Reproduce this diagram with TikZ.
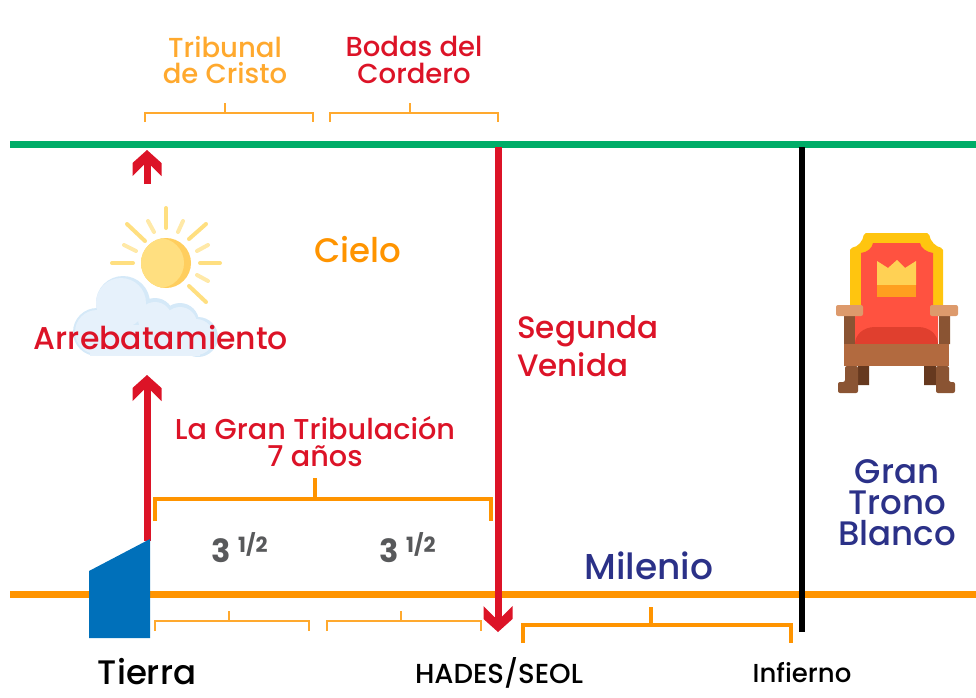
\documentclass[tikz,border=0pt]{standalone}
\usepackage{fontspec}
\setmainfont{Poppins Medium}[BoldFont=Poppins Bold]
\usetikzlibrary{arrows.meta}

\definecolor{redline}{HTML}{DC1327}
\definecolor{orangeline}{HTML}{FF9400}
\definecolor{greenline}{HTML}{00AD68}
\definecolor{navytext}{HTML}{2B3188}
\definecolor{lightorange}{HTML}{FFA92E}
\definecolor{houseblue}{HTML}{0070BA}
\definecolor{sunyellow}{HTML}{FFDF80}
\definecolor{sunshade}{HTML}{FFCE5E}
\definecolor{raypale}{HTML}{FFE9A8}
\definecolor{cloudpale}{HTML}{E6F1FB}
\definecolor{cloudedge}{HTML}{D5E9F8}
\definecolor{woodlight}{HTML}{B26A3F}
\definecolor{wood}{HTML}{8A5433}
\definecolor{wooddark}{HTML}{66391F}
\definecolor{armrest}{HTML}{DD9A6C}
\definecolor{thronegold}{HTML}{FFC50F}
\definecolor{thronered}{HTML}{FF5240}
\definecolor{seatred}{HTML}{E03F2E}
\definecolor{crownyellow}{HTML}{FFD154}
\definecolor{crownorange}{HTML}{FF9F1F}
\definecolor{numgray}{HTML}{58595B}

\pgfdeclarearrow{
  name=Chevron,
  setup code={
    \pgfarrowssettipend{0pt}
    \pgfarrowssetlineend{-15pt}
    \pgfarrowssetvisualbackend{-26pt}
    \pgfarrowssetbackend{-26pt}
    \pgfarrowshullpoint{0pt}{0pt}
    \pgfarrowshullpoint{-26pt}{14.5pt}
    \pgfarrowshullpoint{-26pt}{-14.5pt}
  },
  drawing code={
    \pgfpathmoveto{\pgfpoint{0pt}{0pt}}
    \pgfpathlineto{\pgfpoint{-13pt}{14.5pt}}
    \pgfpathlineto{\pgfpoint{-26pt}{14.5pt}}
    \pgfpathlineto{\pgfpoint{-15pt}{3.5pt}}
    \pgfpathlineto{\pgfpoint{-15pt}{-3.5pt}}
    \pgfpathlineto{\pgfpoint{-26pt}{-14.5pt}}
    \pgfpathlineto{\pgfpoint{-13pt}{-14.5pt}}
    \pgfpathclose
    \pgfusepathqfill
  }
}

\tikzset{
  level line/.style={line width=7pt},
  red arrow/.style={redline,line width=7pt,-{Chevron}},
  label big/.style={font=\fontsize{31.5}{30}\selectfont,inner sep=0pt},
  label small/.style={font=\fontsize{27.5}{26.5}\selectfont,inner sep=0pt,align=center},
  label base/.style={inner sep=0pt,text=black},
  ray/.style={sunyellow,line width=4pt,line cap=round},
  short ray/.style={raypale,line width=4pt,line cap=round},
}

\begin{document}
\begin{tikzpicture}[x=1pt,y=-1pt]
\useasboundingbox (0,0) rectangle (976,697);

\coordinate (heavenL) at (10,144);
\coordinate (heavenR) at (976,144);
\coordinate (earthL)  at (10,594);
\coordinate (earthR)  at (976,594);
\coordinate (riseA)   at (147,541);
\coordinate (riseB)   at (147,375);
\coordinate (riseC)   at (147,184);
\coordinate (riseD)   at (147,150);
\coordinate (comeA)   at (498,147);
\coordinate (comeB)   at (498,632);
\coordinate (endA)    at (802,147);
\coordinate (endB)    at (802,632);

\draw[level line,greenline]  (heavenL) -- (heavenR);
\draw[level line,orangeline] (earthL) -- (earthR);
\draw[red arrow] (riseA) -- (riseB);
\draw[red arrow] (riseC) -- (riseD);
\draw[red arrow] (comeA) -- (comeB);
\draw[black,line width=6pt] (endA) -- (endB);

% brackets: left/right/stem x/y/stem up/feet down/width/colour
\foreach \xa/\xb/\xc/\yb/\up/\dn/\wd/\col in {
    145/313/225/113/10/9/2/lightorange,
    330/498/410/113/10/9/2/lightorange,
    155/491/315/499/21/22/4/orangeline,
    155/309/229/621/10/10/2/lightorange,
    327/481/401/621/10/10/2/lightorange,
    523/791/651/625/18/18/4/orangeline} {
  \draw[\col,line width=\wd pt]
    (\xa,\yb+\dn) -- (\xa,\yb) -- (\xb,\yb) -- (\xb,\yb+\dn);
  \draw[\col,line width=\wd pt] (\xc,\yb) -- (\xc,\yb-\up);
}

% house
\fill[houseblue] (89,571) -- (150,539) -- (150,638) -- (89,638) -- cycle;

% sun
\fill[sunshade] (166,263) circle (25);
\begin{scope}
  \clip (166,263) circle (25);
  \fill[sunyellow] (159,263) circle (25);
\end{scope}
\foreach \xa/\ya/\xb/\yb in {112/263/133/263, 200/263/220/263, 166/208/166/228,
    127/224/145/241, 206/224/189/239, 189/286/206/302}
  \draw[ray] (\xa,\ya) -- (\xb,\yb);
\foreach \xa/\ya/\xb/\yb in {148/221/154/232, 183/221/178/232, 124/245/136/251,
    208/245/197/251, 208/281/197/275}
  \draw[short ray] (\xa,\ya) -- (\xb,\yb);

% cloud
\begin{scope}
  \clip (60,270) rectangle (230,356);
  \fill[cloudedge] (97,332) circle (24) (123,303) circle (27)
    (155,317) circle (19) (180,322) circle (19) (198,337) circle (20);
  \fill[cloudpale] (97,332) circle (22) (121,303) circle (25);
  \fill[cloudpale] (155,319) circle (17) (180,324) circle (17) (196,337) circle (18);
  \fill[cloudpale] (90,325) rectangle (200,356);
\end{scope}

% throne
\fill[wooddark] (858,366) rectangle (869,385) (924,366) rectangle (936,385);
\fill[wood, rounded corners=2pt] (845,366) -- (858,366) -- (858,393) -- (838,393)
  -- (838,382) -- (845,382) -- cycle;
\fill[wood, rounded corners=2pt] (936,366) -- (949,366) -- (949,382) -- (955,382)
  -- (955,393) -- (936,393) -- cycle;
\fill[wood] (844,316) rectangle (855,344) (939,316) rectangle (950,344);
\fill[thronegold, rounded corners=2pt] (850,248) .. controls (858,247) and (863,241) .. (864,233)
  -- (929,233) .. controls (930,241) and (936,247) .. (943,248) -- (943,307) -- (850,307) -- cycle;
\fill[thronered] (861,253) .. controls (868,252) and (872,248) .. (873,243)
  -- (920,243) .. controls (921,248) and (926,252) .. (933,253) -- (933,313)
  -- (938,313) -- (938,344) -- (855,344) -- (855,313) -- (861,313) -- cycle;
\fill[seatred] (855,344) .. controls (855,335) and (863,327) .. (875,327)
  -- (918,327) .. controls (930,327) and (938,335) .. (938,344) -- cycle;
\fill[crownyellow] (877,261) -- (888,268) -- (897,260) -- (905,268) -- (916,261)
  -- (916,285) -- (877,285) -- cycle;
\fill[crownorange] (877,285) rectangle (916,297);
\fill[armrest, rounded corners=2pt] (836,305) rectangle (863,316) (930,305) rectangle (958,316);
\fill[woodlight] (844,344) rectangle (949,366);

% labels
\node[label small,text=lightorange] (tribunal) at (225,60) {Tribunal\\de Cristo};
\node[label small,text=redline]     (bodas)    at (414,60) {Bodas del\\Cordero};
\node[label big,text=orangeline,font=\fontsize{34}{34}\selectfont] (cielo) at (358,250) {Cielo};
\node[label big,text=redline]       (rapture)  at (161,338) {Arrebatamiento};
\node[label big,text=redline,align=left,anchor=west,font=\fontsize{31}{38}\selectfont]
  (segunda) at (517,346) {Segunda\\Venida};
\node[label small,text=redline,font=\fontsize{28.7}{27}\selectfont] (tribulacion) at (315,442) {La Gran Tribulación\\7 años};
\node[label big,text=navytext,font=\fontsize{36}{36}\selectfont] (milenio) at (649,566) {Milenio};
\node[label big,text=navytext,align=center,font=\fontsize{34}{31}\selectfont]
  (trono) at (897,503) {Gran\\Trono\\Blanco};
\foreach \nm/\xa in {halfA/221,halfB/389} {
  \node[inner sep=0pt,text=numgray,font=\fontsize{32}{32}\selectfont\bfseries]
    (\nm) at (\xa,551) {3};
  \node[inner sep=0pt,text=numgray,font=\fontsize{21}{21}\selectfont\bfseries,anchor=west]
    (\nm frac) at (\xa+17,544) {1/2};
}
\node[label base,font=\fontsize{34}{34}\selectfont] (tierra)  at (147,672) {Tierra};
\node[label base,font=\fontsize{27.5}{27.5}\selectfont] (hades)   at (499,673) {HADES/SEOL};
\node[label base,font=\fontsize{26}{26}\selectfont] (infierno) at (802,673) {Infierno};
\end{tikzpicture}
\end{document}
